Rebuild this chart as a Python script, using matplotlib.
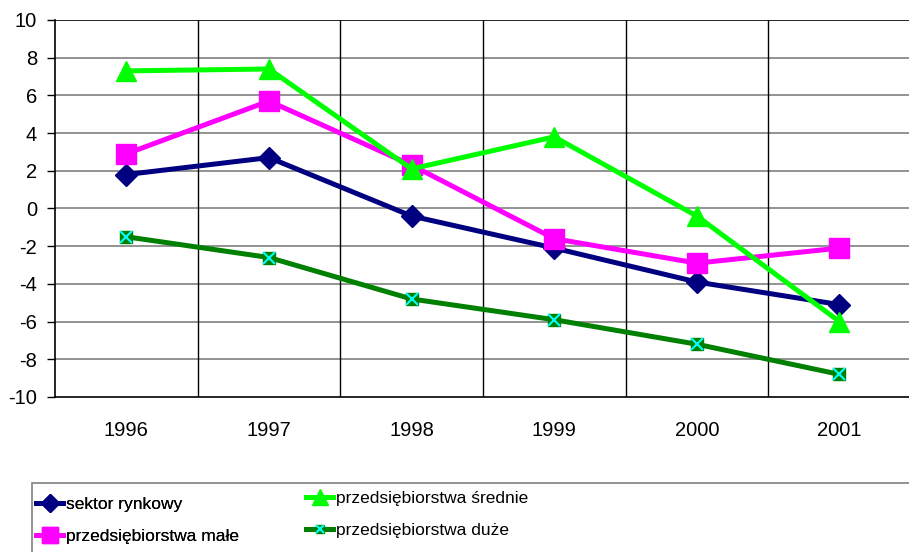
import matplotlib
matplotlib.use("Agg")
import matplotlib.pyplot as plt
from matplotlib.patches import Rectangle

plt.rcParams["font.family"] = ["Liberation Sans", "DejaVu Sans"]

years = ["1996", "1997", "1998", "1999", "2000", "2001"]
sektor_rynkowy = [1.8, 2.7, -0.4, -2.1, -3.9, -5.1]
male = [2.9, 5.7, 2.3, -1.6, -2.9, -2.1]
srednie = [7.3, 7.4, 2.1, 3.8, -0.4, -6.0]
duze = [-1.5, -2.6, -4.8, -5.9, -7.2, -8.8]
y_ticks = list(range(-10, 11, 2))

fig = plt.figure(figsize=(9.09, 5.52), dpi=100)
ax = fig.add_axes([0.0605, 0.2808, 0.9415, 0.683])
x = list(range(len(years)))

l1, = ax.plot(x, sektor_rynkowy, color="#000080", lw=3.6, marker="D",
              ms=11, mec="#000080", zorder=4)
l2, = ax.plot(x, male, color="#FF00FF", lw=3.6, marker="s",
              ms=14, mec="#FF00FF", zorder=4)
l3, = ax.plot(x, srednie, color="#00FF00", lw=3.6, marker="^",
              ms=15, mec="#00FF00", zorder=5)
l4, = ax.plot(x, duze, color="#008000", lw=3.6, marker="s",
              ms=8, mec="#008000", zorder=4)
l4x, = ax.plot(x, duze, ls="none", marker="x", ms=8, mew=1.5,
               color="#00FFFF", zorder=6)

ax.set_xlim(-0.5, len(years) - 0.5)
ax.set_ylim(-10, 10)
ax.set_yticks(y_ticks)
ax.set_yticklabels([str(v) for v in y_ticks])
ax.set_xticks(x)
ax.set_xticklabels(years)
ax.tick_params(axis="y", length=6, width=1, pad=7, labelsize=14.5)
ax.tick_params(axis="x", length=0, pad=17, labelsize=14.5)

for v in y_ticks[1:-1]:
    ax.axhline(v, color="#808080", lw=1.2, zorder=1)
for b in range(len(years) - 1):
    ax.axvline(b + 0.5, color="black", lw=1, zorder=1)
ax.axhline(10, color="black", lw=1.2, zorder=1)
for side in ["left", "bottom"]:
    ax.spines[side].set_linewidth(1.2)
ax.spines["top"].set_visible(False)
ax.spines["right"].set_visible(False)

# legend box runs off the bottom/right of the picture
fig.patches.append(Rectangle((0.035, -0.05), 1.0, 0.175, transform=fig.transFigure,
                             fill=False, edgecolor="#808080", lw=1.2))
leg_style = dict(loc="upper left", frameon=False, fontsize=12.5, handlelength=1.55,
                 handletextpad=0.15, labelspacing=1.0, markerscale=0.8,
                 borderaxespad=0, borderpad=0)
leg1 = fig.legend([l1, l2], ["sektor rynkowy", "przedsiębiorstwa małe"],
                  bbox_to_anchor=(0.040, 0.100), **leg_style)
fig.add_artist(leg1)
fig.legend([l3, (l4, l4x)], ["przedsiębiorstwa średnie", "przedsiębiorstwa duże"],
           bbox_to_anchor=(0.337, 0.111), **leg_style)

fig.savefig("out.png", dpi=100)
